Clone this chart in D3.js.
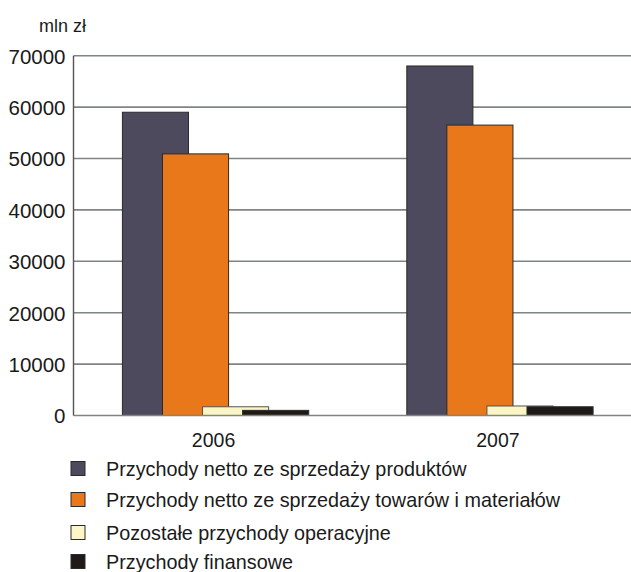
<!DOCTYPE html>
<html><head><meta charset="utf-8">
<script src="https://cdn.jsdelivr.net/npm/d3@7"></script>
<style>body{margin:0;background:#fff}svg{display:block}text{font-family:"Liberation Sans",Arial,sans-serif;fill:#1a1a1a}</style>
</head><body><svg id="c" width="631" height="572"></svg>
<script>
const categories = ["2006", "2007"];
const seriesNames = [
  "Przychody netto ze sprzedaży produktów",
  "Przychody netto ze sprzedaży towarów i materiałów",
  "Pozostałe przychody operacyjne",
  "Przychody finansowe"
];
const seriesColors = ["#4e4a5e", "#e8781a", "#fcf6c6", "#1f1a17"];
const productsValues = [59000, 68000];
const goodsValues = [50900, 56500];
const otherOperatingValues = [1700, 1850];
const financialValues = [1000, 1700];
const yTicks = [0, 10000, 20000, 30000, 40000, 50000, 60000, 70000];
const unitLabel = "mln zł";

const series = [productsValues, goodsValues, otherOperatingValues, financialValues];
const svg = d3.select("#c");
const x0 = 73.5, x1 = 642, yTop = 55.7, yBot = 415.5;
const y = d3.scaleLinear().domain([0, 70000]).range([yBot, yTop]);
const xb = d3.scaleBand().domain(categories).range([x0, x1]).paddingInner(0.345).paddingOuter(0.172);
const barW = xb.bandwidth() * 66 / 186;
const xs = d3.scaleBand().domain(d3.range(4)).range([0, xb.bandwidth() - barW + xb.bandwidth()*40/186]).padding(0);

// grid
svg.append("g").selectAll("line").data(yTicks.filter(d => d > 0)).join("line")
  .attr("x1", x0).attr("x2", 631).attr("y1", d => y(d)).attr("y2", d => y(d))
  .attr("stroke", "#7f8484").attr("stroke-width", 1.6);

// y axis labels
const yAxis = d3.axisLeft(y).tickValues(yTicks).tickSize(0).tickPadding(8).tickFormat(d3.format("d"));
const ga = svg.append("g").attr("transform", `translate(${x0},0)`).call(yAxis);
ga.select(".domain").remove();
ga.selectAll("text").attr("font-size", 20.5).attr("font-family", "Liberation Sans, Arial, sans-serif").attr("fill", "#1a1a1a").attr("dy", "0.36em");

// bars
series.forEach((vals, si) => {
  svg.append("g").selectAll("rect").data(vals).join("rect")
    .attr("x", (d, i) => xb(categories[i]) + xs(si))
    .attr("y", d => y(d))
    .attr("width", barW)
    .attr("height", d => yBot - y(d))
    .attr("fill", seriesColors[si])
    .attr("stroke", si === 2 ? "#55554a" : "#2a2a2a")
    .attr("stroke-width", 1);
});

// axes lines
svg.append("line").attr("x1", x0).attr("x2", 631).attr("y1", yBot).attr("y2", yBot).attr("stroke", "#7f8484").attr("stroke-width", 1.6);
svg.append("line").attr("x1", x0).attr("x2", x0).attr("y1", yTop).attr("y2", yBot).attr("stroke", "#555").attr("stroke-width", 1.4);

// category labels
svg.append("g").selectAll("text").data(categories).join("text")
  .attr("x", d => xb(d) + xb.bandwidth()/2 - 2)
  .attr("y", 447).attr("text-anchor", "middle").attr("font-size", 19.5).text(d => d);

// unit
svg.append("text").attr("x", 39).attr("y", 32).attr("font-size", 18).text(unitLabel);

// legend
const legY = [469, 500, 533, 562];
const lg = svg.append("g");
seriesNames.forEach((n, i) => {
  lg.append("rect").attr("x", 71).attr("y", legY[i] - 7.5).attr("width", 14).attr("height", 14)
    .attr("fill", seriesColors[i]).attr("stroke", "#2a2a2a").attr("stroke-width", 1);
  lg.append("text").attr("x", 106).attr("y", legY[i]).attr("dy", "0.35em").attr("font-size", 19.8).text(n);
});
</script></body></html>
